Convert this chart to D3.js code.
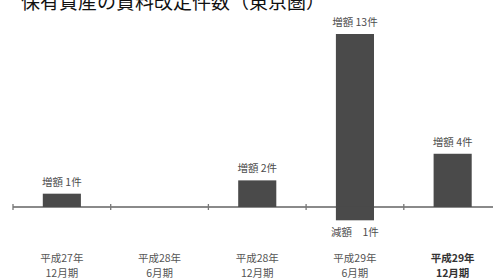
<!DOCTYPE html>
<html lang="ja">
<head>
<meta charset="UTF-8">
<script src="https://d3js.org/d3.v7.min.js"></script>
<style>
  html,body{margin:0;padding:0;background:#fff;}
  svg{display:block;font-family:"Noto Sans CJK JP",sans-serif;}
</style>
</head>
<body>
<div id="chart"></div>
<script>
var periods = ["平成27年|12月期", "平成28年|6月期", "平成28年|12月期", "平成29年|6月期", "平成29年|12月期"];
var increases = [1, 0, 2, 13, 4];
var decreases = [0, 0, 0, 1, 0];
var title = "保有資産の賃料改定件数（東京圏）";

var width = 493, height = 280;

var svg = d3.select("#chart").append("svg")
    .attr("width", width)
    .attr("height", height);

var x = d3.scaleBand()
    .domain(periods)
    .range([13, 501.5])
    .paddingInner(0.61)
    .paddingOuter(0.305);

var y = d3.scaleLinear()
    .domain([-1, 13])
    .range([220.3, 34]);

// title (cut off at the top)
svg.append("text")
    .attr("x", 21)
    .attr("y", 9)
    .attr("font-size", 19)
    .attr("fill", "#111")
    .text(title);

// baseline axis
var axisY = y(0);
svg.append("line")
    .attr("x1", 13).attr("x2", width)
    .attr("y1", axisY).attr("y2", axisY)
    .attr("stroke", "#8a8a8a")
    .attr("stroke-width", 2);

var step = x.step();
svg.selectAll(".tick")
    .data(periods)
    .enter().append("line")
    .attr("x1", function(d) { return x(d) - x.paddingOuter() * step; })
    .attr("x2", function(d) { return x(d) - x.paddingOuter() * step; })
    .attr("y1", axisY - 3).attr("y2", axisY + 3)
    .attr("stroke", "#777")
    .attr("stroke-width", 1.3);

// increase bars
svg.selectAll(".up")
    .data(periods.map(function(p, i) { return {p: p, v: increases[i]}; }).filter(function(d) { return d.v > 0; }))
    .enter().append("rect")
    .attr("x", function(d) { return x(d.p); })
    .attr("width", x.bandwidth())
    .attr("y", function(d) { return y(d.v); })
    .attr("height", function(d) { return y(0) - y(d.v); })
    .attr("fill", "#4a4a4a");

// decrease bars
svg.selectAll(".down")
    .data(periods.map(function(p, i) { return {p: p, v: decreases[i]}; }).filter(function(d) { return d.v > 0; }))
    .enter().append("rect")
    .attr("x", function(d) { return x(d.p); })
    .attr("width", x.bandwidth())
    .attr("y", y(0))
    .attr("height", function(d) { return y(-d.v) - y(0); })
    .attr("fill", "#4a4a4a");

// value labels
svg.selectAll(".uplab")
    .data(periods.map(function(p, i) { return {p: p, v: increases[i]}; }).filter(function(d) { return d.v > 0; }))
    .enter().append("text")
    .attr("x", function(d) { return x(d.p) + x.bandwidth() / 2; })
    .attr("y", function(d) { return y(d.v) - 8; })
    .attr("text-anchor", "middle")
    .attr("font-size", 10.5)
    .attr("fill", "#4d4d4d")
    .text(function(d) { return "増額 " + d.v + "件"; });

svg.selectAll(".downlab")
    .data(periods.map(function(p, i) { return {p: p, v: decreases[i]}; }).filter(function(d) { return d.v > 0; }))
    .enter().append("text")
    .attr("x", function(d) { return x(d.p) + x.bandwidth() / 2; })
    .attr("y", function(d) { return y(-d.v) + 16; })
    .attr("text-anchor", "middle")
    .attr("font-size", 10.5)
    .attr("fill", "#4d4d4d")
    .text(function(d) { return "減額　" + d.v + "件"; });

// category labels
var cat = svg.selectAll(".cat")
    .data(periods)
    .enter().append("text")
    .attr("text-anchor", "middle")
    .attr("font-size", 10.5)
    .attr("fill", function(d, i) { return i === periods.length - 1 ? "#333" : "#555"; })
    .attr("font-weight", function(d, i) { return i === periods.length - 1 ? "bold" : "normal"; });

cat.selectAll("tspan")
    .data(function(d) { return d.split("|").map(function(s) { return {s: s, p: d}; }); })
    .enter().append("tspan")
    .attr("x", function(d) { return x(d.p) + x.bandwidth() / 2; })
    .attr("y", function(d, i) { return 261.5 + i * 15; })
    .text(function(d) { return d.s; });
</script>
</body>
</html>
